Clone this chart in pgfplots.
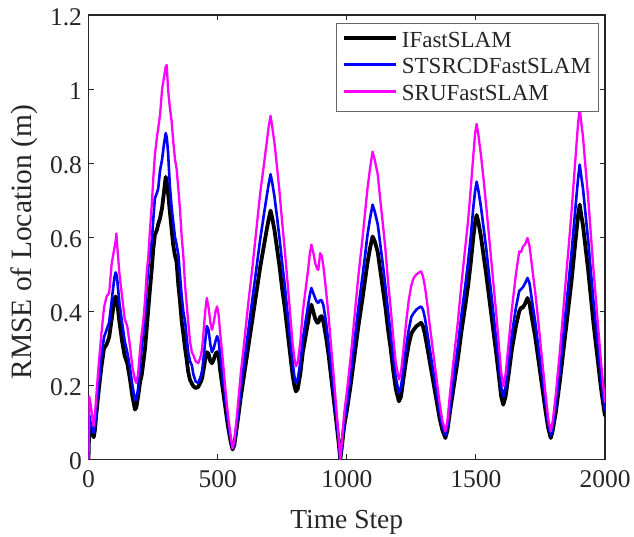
\documentclass[border=0pt]{standalone}
\usepackage{fontspec}
\setmainfont{Liberation Serif}
\usepackage{pgfplots}
\usepackage{pgfplotstable}
\pgfplotsset{compat=1.18}
\definecolor{axgray}{RGB}{38,38,38}
\definecolor{mblue}{RGB}{0,0,255}
\definecolor{mmag}{RGB}{255,0,255}
\pgfplotstableread{
x b u m
0 0.00 0.00 0.00
3 0.10 0.12 0.17
8 0.09 0.10 0.15
14 0.07 0.085 0.12
20 0.06 0.072 0.09
25 0.08 0.09 0.12
30 0.12 0.14 0.17
40 0.19 0.21 0.26
50 0.25 0.28 0.34
60 0.30 0.33 0.41
70 0.31 0.35 0.44
80 0.33 0.37 0.45
90 0.38 0.43 0.53
100 0.43 0.49 0.57
105 0.44 0.505 0.59
108 0.435 0.50 0.61
112 0.42 0.48 0.57
120 0.37 0.42 0.50
130 0.32 0.37 0.44
140 0.28 0.32 0.38
150 0.26 0.29 0.36
160 0.22 0.25 0.31
170 0.17 0.20 0.25
180 0.135 0.16 0.215
185 0.14 0.162 0.207
192 0.17 0.19 0.23
200 0.21 0.26 0.30
206 0.228 0.30 0.34
212 0.26 0.34 0.372
219 0.30 0.39 0.43
225 0.35 0.462 0.50
232 0.41 0.52 0.552
238 0.46 0.56 0.62
245 0.515 0.588 0.687
251 0.57 0.65 0.76
257 0.606 0.705 0.822
265 0.62 0.72 0.87
270 0.635 0.732 0.894
277 0.651 0.78 0.93
285 0.68 0.81 1.0
292 0.72 0.85 1.03
299 0.763 0.881 1.06
303 0.75 0.87 1.065
308 0.72 0.83 1.0
315 0.67 0.74 0.95
322 0.62 0.68 0.912
328 0.579 0.642 0.86
335 0.55 0.60 0.81
341 0.534 0.58 0.786
348 0.47 0.552 0.73
354 0.43 0.50 0.678
361 0.372 0.44 0.60
367 0.34 0.40 0.552
374 0.30 0.372 0.47
380 0.27 0.33 0.42
386 0.237 0.29 0.372
393 0.215 0.265 0.32
400 0.205 0.255 0.29
406 0.198 0.23 0.282
415 0.193 0.21 0.265
425 0.196 0.207 0.26
435 0.21 0.225 0.28
440 0.22 0.24 0.30
445 0.24 0.27 0.34
452 0.27 0.32 0.40
458 0.29 0.36 0.436
465 0.285 0.35 0.41
472 0.265 0.31 0.37
478 0.26 0.29 0.35
485 0.27 0.30 0.37
492 0.285 0.32 0.40
498 0.29 0.333 0.413
504 0.28 0.32 0.39
510 0.24 0.28 0.34
520 0.19 0.22 0.27
530 0.14 0.16 0.19
540 0.09 0.10 0.12
550 0.05 0.055 0.065
558 0.027 0.03 0.03
565 0.04 0.045 0.05
575 0.09 0.10 0.12
590 0.17 0.195 0.235
605 0.24 0.275 0.33
620 0.31 0.355 0.43
635 0.38 0.435 0.52
650 0.45 0.515 0.62
665 0.52 0.595 0.72
680 0.58 0.665 0.80
690 0.62 0.71 0.855
698 0.65 0.745 0.90
705 0.672 0.77 0.928
712 0.65 0.745 0.895
720 0.62 0.71 0.855
730 0.57 0.655 0.79
740 0.52 0.595 0.72
750 0.46 0.53 0.64
760 0.41 0.47 0.565
770 0.35 0.40 0.485
780 0.29 0.33 0.40
790 0.23 0.265 0.315
797 0.20 0.225 0.275
803 0.184 0.207 0.252
810 0.19 0.215 0.26
820 0.23 0.26 0.315
830 0.29 0.325 0.40
840 0.33 0.37 0.455
850 0.37 0.415 0.51
857 0.40 0.445 0.555
863 0.418 0.463 0.58
870 0.40 0.45 0.56
878 0.38 0.435 0.53
885 0.37 0.425 0.515
890 0.369 0.423 0.512
897 0.385 0.43 0.557
903 0.387 0.43 0.55
910 0.37 0.415 0.52
920 0.33 0.37 0.455
930 0.28 0.31 0.385
940 0.22 0.245 0.30
950 0.16 0.18 0.22
960 0.10 0.11 0.135
968 0.05 0.055 0.065
975 0.00 0.00 0.00
982 0.04 0.045 0.055
990 0.09 0.10 0.125
1000 0.13 0.145 0.18
1015 0.20 0.23 0.275
1030 0.28 0.32 0.385
1045 0.36 0.41 0.495
1060 0.43 0.49 0.59
1070 0.48 0.545 0.66
1080 0.53 0.605 0.73
1090 0.57 0.65 0.785
1100 0.602 0.688 0.831
1108 0.59 0.67 0.81
1120 0.56 0.635 0.77
1130 0.51 0.58 0.70
1140 0.46 0.525 0.635
1150 0.41 0.465 0.565
1160 0.35 0.40 0.48
1170 0.30 0.34 0.41
1180 0.24 0.275 0.33
1190 0.19 0.22 0.26
1202 0.157 0.18 0.216
1210 0.17 0.195 0.235
1220 0.22 0.25 0.30
1230 0.27 0.305 0.37
1240 0.31 0.35 0.43
1250 0.34 0.385 0.47
1259 0.35 0.395 0.49
1270 0.36 0.405 0.50
1280 0.365 0.41 0.505
1288 0.369 0.413 0.508
1295 0.36 0.405 0.495
1302 0.34 0.385 0.47
1310 0.31 0.35 0.43
1320 0.27 0.305 0.37
1330 0.23 0.26 0.315
1340 0.19 0.215 0.26
1350 0.15 0.17 0.205
1360 0.11 0.125 0.15
1370 0.08 0.09 0.105
1382 0.058 0.065 0.076
1390 0.08 0.09 0.105
1400 0.13 0.145 0.18
1415 0.20 0.225 0.275
1430 0.27 0.305 0.37
1445 0.35 0.395 0.48
1460 0.42 0.475 0.58
1470 0.47 0.535 0.645
1480 0.53 0.60 0.73
1490 0.60 0.68 0.82
1497 0.64 0.725 0.88
1503 0.66 0.75 0.906
1510 0.64 0.725 0.875
1520 0.60 0.68 0.82
1530 0.55 0.625 0.755
1540 0.50 0.57 0.685
1550 0.445 0.505 0.61
1560 0.39 0.445 0.535
1570 0.335 0.38 0.46
1580 0.28 0.315 0.385
1590 0.22 0.25 0.30
1598 0.17 0.195 0.235
1606 0.148 0.17 0.198
1615 0.17 0.195 0.23
1625 0.22 0.25 0.30
1640 0.30 0.34 0.41
1655 0.36 0.41 0.50
1668 0.40 0.455 0.562
1675 0.41 0.46 0.56
1682 0.41 0.465 0.575
1690 0.42 0.475 0.58
1700 0.436 0.49 0.598
1708 0.42 0.475 0.575
1715 0.39 0.44 0.535
1730 0.33 0.37 0.45
1740 0.28 0.315 0.385
1750 0.23 0.26 0.315
1760 0.18 0.205 0.245
1770 0.13 0.15 0.175
1780 0.085 0.095 0.11
1790 0.058 0.065 0.076
1798 0.08 0.09 0.105
1810 0.13 0.15 0.18
1825 0.21 0.24 0.29
1840 0.30 0.345 0.415
1850 0.36 0.415 0.50
1860 0.42 0.485 0.58
1870 0.48 0.555 0.665
1880 0.55 0.635 0.76
1890 0.62 0.715 0.855
1896 0.66 0.76 0.91
1902 0.688 0.796 0.948
1908 0.66 0.765 0.91
1915 0.63 0.73 0.87
1925 0.57 0.66 0.785
1935 0.51 0.59 0.705
1945 0.44 0.51 0.61
1955 0.37 0.43 0.515
1965 0.31 0.36 0.43
1975 0.25 0.29 0.345
1985 0.19 0.215 0.26
1993 0.15 0.17 0.20
2000 0.117 0.132 0.153
}\datatable
\begin{document}
\begin{tikzpicture}
\useasboundingbox (-88.5pt,-76.5pt) rectangle (545.5pt,459.5pt);
\begin{axis}[
  at={(0pt,0pt)}, anchor=south west,
  scale only axis, width=516.5pt, height=444.5pt,
  xmin=0, xmax=2000, ymin=0, ymax=1.2,
  xtick={0,500,1000,1500,2000},
  ytick={0,0.2,0.4,0.6,0.8,1,1.2},
  tick align=inside, major tick length=5.5pt,
  axis line style={draw=axgray, line width=1.1pt},
  every tick/.style={draw=axgray, line width=1pt},
  /pgf/number format/assume math mode=true,
  /pgf/number format/1000 sep={},
  tick label style={font=\fontsize{25.5}{30}\selectfont, text=axgray},
  xticklabel style={yshift=-8pt},
  yticklabel style={xshift=-3pt, yshift=-2pt},
  xlabel={Time Step},
  ylabel={RMSE of Location (m)},
  xlabel style={at={(axis description cs:0.5,-0.15411)}, anchor=base, font=\fontsize{27.5}{32}\selectfont, text=axgray},
  ylabel style={at={(axis description cs:-0.1113,0.48875)}, anchor=base, font=\fontsize{29.5}{34}\selectfont, text=axgray},
  legend cell align=left,
  legend image code/.code={\draw[#1] (0pt,3pt) -- (52pt,3pt);},
  legend style={at={(axis description cs:0.98896,0.98133)}, anchor=north east,
    draw=black!60, line width=0.8pt, fill=white,
    font=\fontsize{23}{26}\selectfont, text=black!85,
    inner xsep=5.5pt, inner ysep=4pt, column sep=2pt, row sep=0pt,
    nodes={inner sep=2.35pt, text height=17pt, text depth=5pt}},
]
\addplot[black, line width=3.8pt, line join=round] table[x=x, y=b] {\datatable};
\addlegendentry{IFastSLAM}
\addplot[mblue, line width=2.6pt, line join=round] table[x=x, y=u] {\datatable};
\addlegendentry{STSRCDFastSLAM}
\addplot[mmag, line width=2.3pt, line join=round] table[x=x, y=m] {\datatable};
\addlegendentry{SRUFastSLAM}
\end{axis}
\end{tikzpicture}
\end{document}
